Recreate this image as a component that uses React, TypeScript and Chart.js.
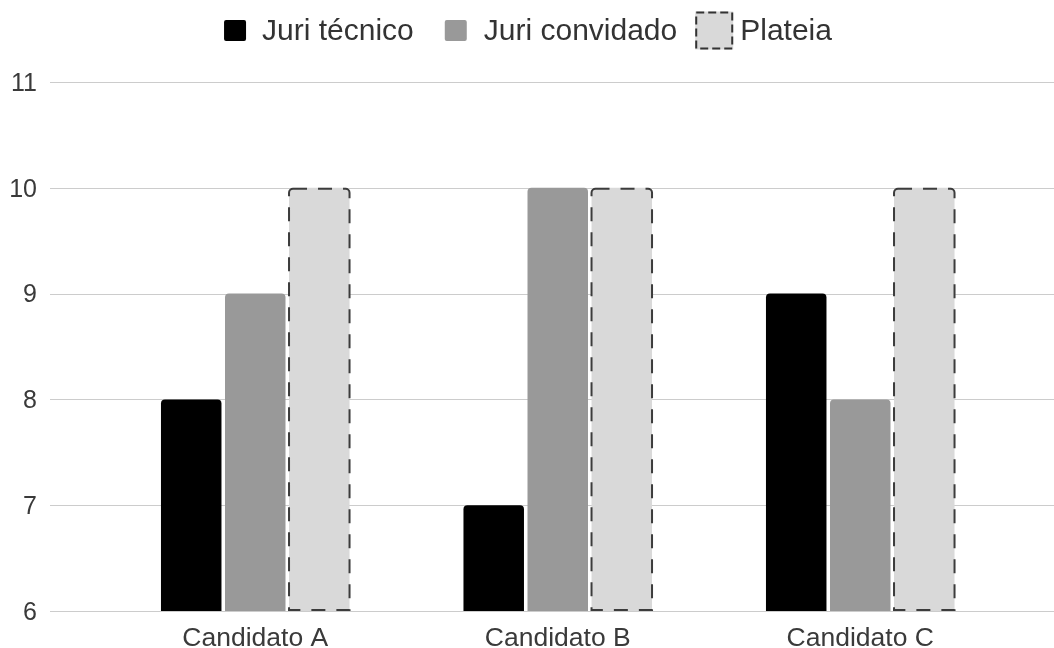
import { useEffect, useRef } from "react";
import { Chart, registerables } from "chart.js";

Chart.register(...registerables);

const categories = ["Candidato A", "Candidato B", "Candidato C"];
const seriesNames = ["Juri técnico", "Juri convidado", "Plateia"];
const juriTecnico = [8, 7, 9];
const juriConvidado = [9, 10, 8];
const plateia = [10, 10, 10];
const yMin = 6;
const yMax = 11;
const yStep = 1;

const FONT = "'Liberation Sans', Arial, sans-serif";
const TEXT = "#3a3a3a";
const COLORS = ["#000000", "#999999", "#d9d9d9"];
const DASH_COLOR = "#3c3c3c";

const gridPlugin = {
  id: "fullGrid",
  beforeDatasetsDraw(chart: any) {
    const ctx = chart.ctx;
    const ys = chart.scales.y;
    ctx.save();
    ctx.strokeStyle = "#cccccc";
    ctx.lineWidth = 1;
    ys.ticks.forEach((t: any) => {
      const y = Math.round(ys.getPixelForValue(t.value)) + 0.5;
      ctx.beginPath();
      ctx.moveTo(50, y);
      ctx.lineTo(chart.width, y);
      ctx.stroke();
    });
    ctx.restore();
  },
};

const dashPlugin = {
  id: "dashBars",
  afterDatasetsDraw(chart: any) {
    const ctx = chart.ctx;
    const meta = chart.getDatasetMeta(2);
    const bottomPx = chart.scales.y.getPixelForValue(yMin);
    ctx.save();
    ctx.strokeStyle = DASH_COLOR;
    ctx.lineWidth = 2;
    ctx.setLineDash([14, 11]);
    meta.data.forEach((bar: any) => {
      const { x, y, width } = bar.getProps(["x", "y", "width"], true);
      const l = x - width / 2;
      const r = x + width / 2;
      const t = y + 1;
      const b = bottomPx - 1;
      ctx.beginPath();
      (ctx as any).roundRect(l, t, r - l, b - t, [4, 4, 0, 0]);
      ctx.stroke();
    });
    ctx.restore();
  },
};

const legendPlugin = {
  id: "customLegend",
  afterDraw(chart: any) {
    const ctx = chart.ctx;
    ctx.save();
    ctx.font = `30px ${FONT}`;
    const w = seriesNames.map((n) => ctx.measureText(n).width);
    const boxW = [22, 22, 38];
    const gapBoxText = [16, 17, 7];
    const gapItem = [31, 18];
    let total = 0;
    for (let i = 0; i < 3; i++) {
      total += boxW[i] + gapBoxText[i] + w[i];
      if (i < 2) total += gapItem[i];
    }
    let x = chart.width / 2 + 1 - total / 2;
    const cy = 30.5;
    for (let i = 0; i < 3; i++) {
      if (i < 2) {
        ctx.fillStyle = COLORS[i];
        ctx.beginPath();
        (ctx as any).roundRect(x, cy - 10.5, 22, 21, 2);
        ctx.fill();
      } else {
        ctx.fillStyle = COLORS[2];
        ctx.fillRect(x, cy - 19, 38, 38);
        ctx.strokeStyle = "#333333";
        ctx.lineWidth = 2;
        ctx.setLineDash([8, 4]);
        ctx.strokeRect(x + 1, cy - 18, 36, 36);
        ctx.setLineDash([]);
      }
      x += boxW[i] + gapBoxText[i];
      ctx.fillStyle = "#333333";
      ctx.textBaseline = "middle";
      ctx.textAlign = "left";
      ctx.fillText(seriesNames[i], x, cy + 1);
      x += w[i];
      if (i < 2) x += gapItem[i];
    }
    ctx.restore();
  },
};

export default function App() {
  const ref = useRef<HTMLCanvasElement | null>(null);

  useEffect(() => {
    if (!ref.current) return;
    Chart.defaults.font.family = FONT;
    const barCommon = {
      categoryPercentage: 0.635,
      barPercentage: 0.945,
      borderWidth: 0,
      borderRadius: 4,
      borderSkipped: "start" as const,
    };
    const chart = new Chart(ref.current, {
      type: "bar",
      data: {
        labels: categories,
        datasets: [
          { label: seriesNames[0], data: juriTecnico, backgroundColor: COLORS[0], ...barCommon },
          { label: seriesNames[1], data: juriConvidado, backgroundColor: COLORS[1], ...barCommon },
          { label: seriesNames[2], data: plateia, backgroundColor: COLORS[2], ...barCommon },
        ],
      },
      options: {
        animation: false,
        responsive: false,
        maintainAspectRatio: false,
        devicePixelRatio: 1,
        layout: { padding: { top: 82, right: 42.5, left: 0, bottom: 0 } },
        plugins: {
          legend: { display: false },
          tooltip: { enabled: false },
          title: { display: false },
        },
        scales: {
          x: {
            grid: { display: false, drawTicks: false },
            border: { display: false },
            ticks: { color: TEXT, font: { size: 26.5, family: FONT }, padding: 12, maxRotation: 0 },
            afterFit: (s: any) => {
              s.height = 37;
            },
          },
          y: {
            min: yMin,
            max: yMax,
            grid: { display: false, drawTicks: false },
            border: { display: false },
            ticks: {
              stepSize: yStep,
              color: TEXT,
              font: { size: 25, family: FONT },
              padding: 67,
              labelOffset: 2,
            },
            afterFit: (s: any) => {
              s.width = 104;
              s.paddingTop = 15;
              s.paddingBottom = 15;
            },
          },
        },
      },
      plugins: [gridPlugin, dashPlugin, legendPlugin],
    });
    return () => chart.destroy();
  }, []);

  return (
    <div style={{ position: "fixed", left: 0, top: 0, width: 1054, height: 648, background: "#ffffff" }}>
      <canvas ref={ref} width={1054} height={648} style={{ width: 1054, height: 648, display: "block" }} />
    </div>
  );
}
